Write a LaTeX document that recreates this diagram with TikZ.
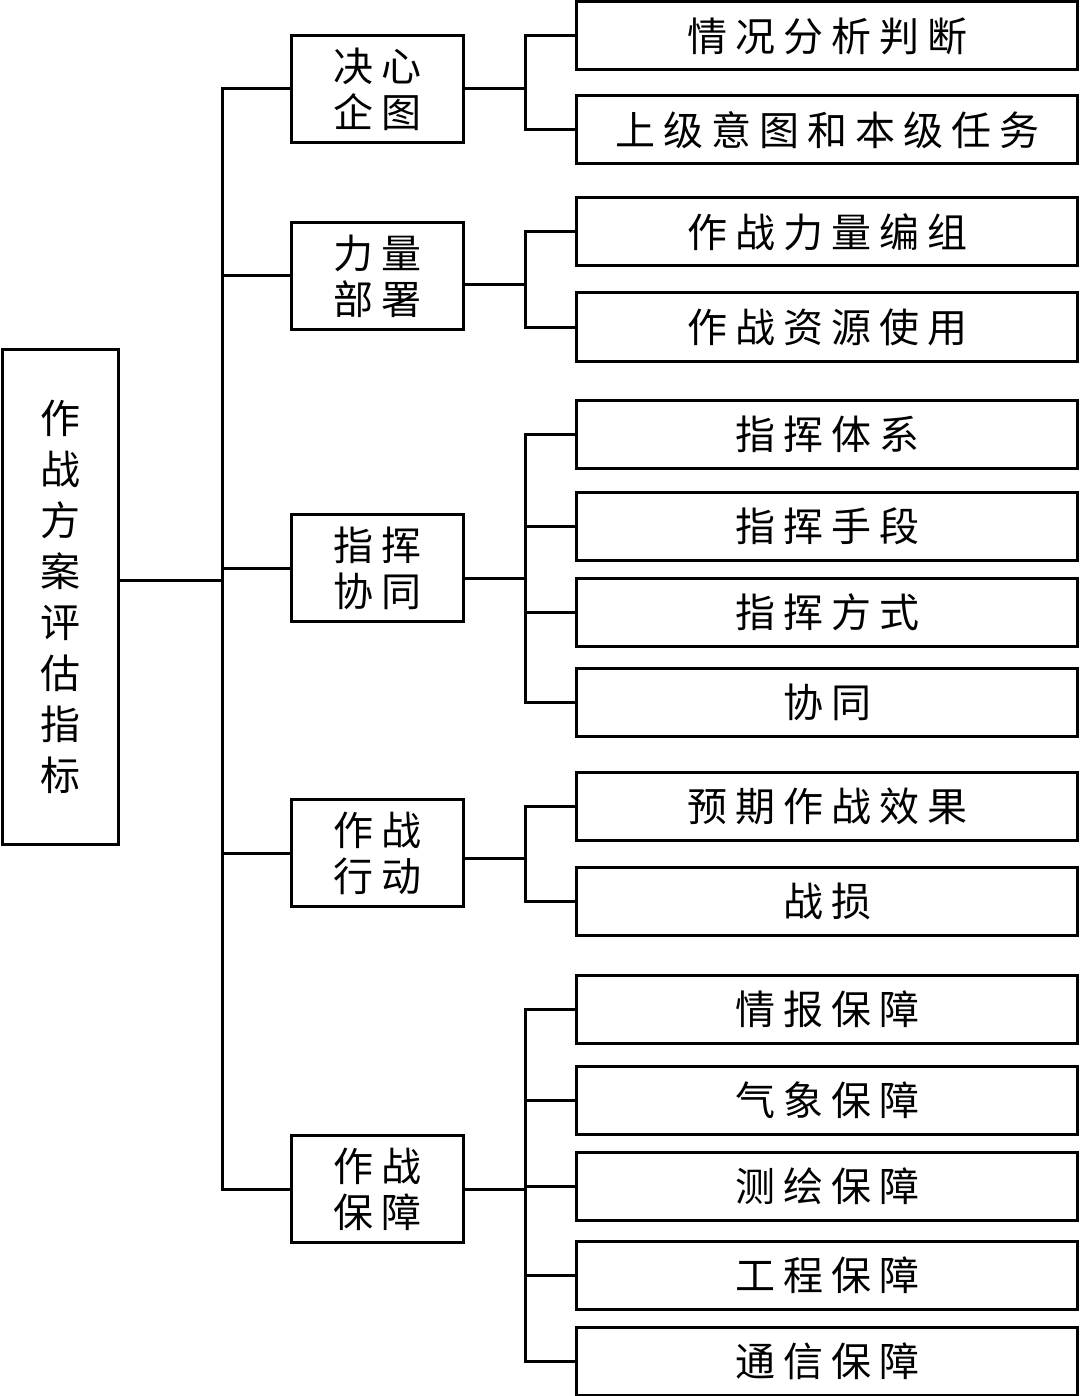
\documentclass[tikz,border=0pt]{standalone}
\usepackage{fontspec}
\newfontfamily\cjk[LetterSpace=20]{Noto Sans CJK SC}
\begin{document}
\begin{tikzpicture}[x=1pt,y=-1pt,
  box/.style={draw, line width=3pt, inner sep=0pt, font=\cjk\fontsize{40}{52}\selectfont},
  root/.style={box, minimum width=116, minimum height=495, align=center, font=\cjk\fontsize{40}{51}\selectfont},
  mid/.style={box, minimum width=172, minimum height=107, align=center, font=\cjk\fontsize{40}{46}\selectfont},
  leaf/.style={box, minimum width=501, minimum height=68},
  link/.style={line width=3pt}]
\useasboundingbox (0,0) rectangle (1080,1396);
\node[root] (r) at (60,597) {作\\战\\方\\案\\评\\估\\指\\标};
\begin{scope}[every node/.style={mid}]
\node (k1) at (377,89) {决心\\企图};
\node (k2) at (377,276) {力量\\部署};
\node (k3) at (377,568) {指挥\\协同};
\node (k4) at (377,853) {作战\\行动};
\node (k5) at (377,1189) {作战\\保障};
\end{scope}
\begin{scope}[every node/.style={leaf}]
\node (l1) at (827,36) {情况分析判断};
\node (l2) at (827,130) {上级意图和本级任务};
\node (l3) at (827,232) {作战力量编组};
\node (l4) at (827,327) {作战资源使用};
\node (l5) at (827,434) {指挥体系};
\node (l6) at (827,526) {指挥手段};
\node (l7) at (827,612) {指挥方式};
\node (l8) at (827,702) {协同};
\node (l9) at (827,806) {预期作战效果};
\node (l10) at (827,901) {战损};
\node (l11) at (827,1009) {情报保障};
\node (l12) at (827,1100) {气象保障};
\node (l13) at (827,1186) {测绘保障};
\node (l14) at (827,1275) {工程保障};
\node (l15) at (827,1361) {通信保障};
\end{scope}
\coordinate (t0) at (222,580);
\coordinate (b1) at (525,89);
\coordinate (b2) at (525,285);
\coordinate (b3) at (525,578);
\coordinate (b4) at (525,858);
\coordinate (b5) at (525,1189);
\begin{scope}[every path/.style={link}]
\draw (r.east |- t0) -- (t0);
\foreach \k in {1,...,5} \draw (t0) |- (k\k.west);
\draw (k1.east) -- (b1); \draw (k2.east |- b2) -- (b2); \draw (k3.east |- b3) -- (b3);
\draw (k4.east |- b4) -- (b4); \draw (k5.east) -- (b5);
\foreach \l in {1,2} \draw (b1) |- (l\l.west);
\foreach \l in {3,4} \draw (b2) |- (l\l.west);
\foreach \l in {5,...,8} \draw (b3) |- (l\l.west);
\foreach \l in {9,10} \draw (b4) |- (l\l.west);
\foreach \l in {11,...,15} \draw (b5) |- (l\l.west);
\end{scope}
\end{tikzpicture}
\end{document}
